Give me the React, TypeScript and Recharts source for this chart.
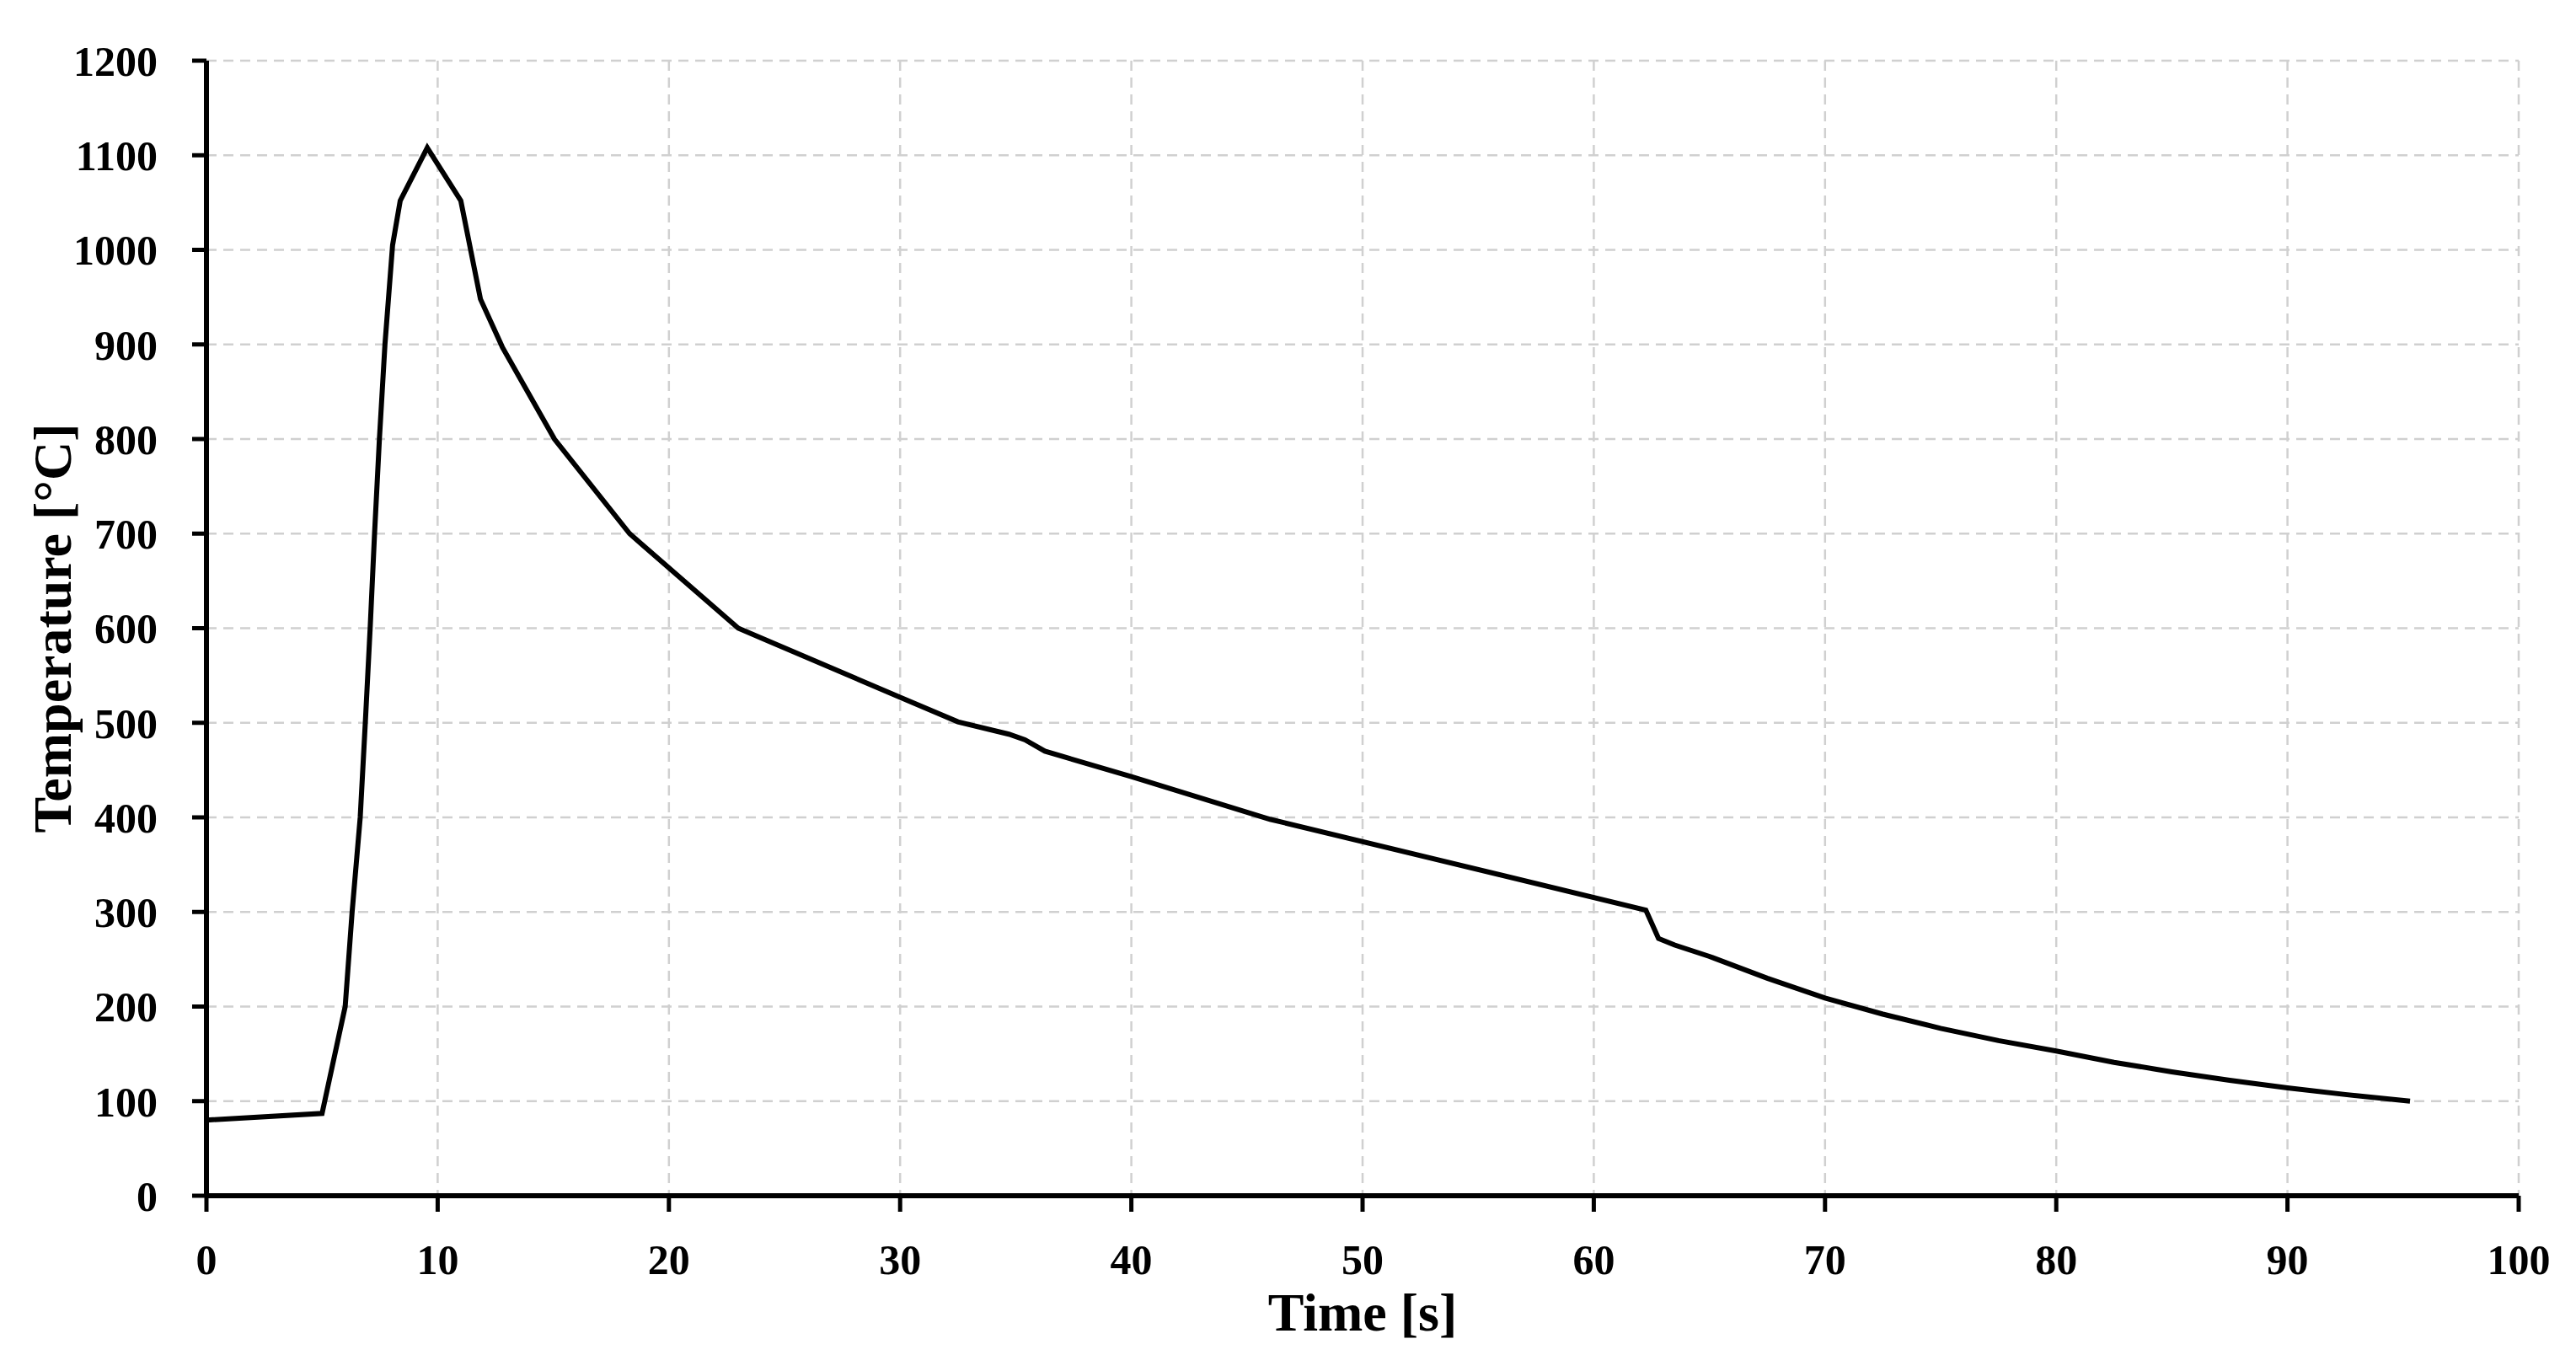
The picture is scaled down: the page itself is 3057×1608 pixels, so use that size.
import React from "react";
import { LineChart, Line, XAxis, YAxis, CartesianGrid } from "recharts";

// Time [s]
const times = [
  0, 5.0, 6.0, 6.3, 6.65, 6.87, 7.08, 7.27, 7.48, 7.72, 8.05, 8.38, 9.55, 11.0,
  11.85, 12.8, 15.05, 18.3, 23.0, 30.0, 32.5, 34.7, 35.4, 36.26, 40, 46, 62.25,
  62.8, 63.5, 65, 67.5, 70, 72.5, 75, 77.5, 80, 82.5, 85, 87.5, 90, 92.5, 95.3,
];
// Temperature [°C]
const temps = [
  80, 87, 200, 300, 400, 500, 600, 700, 800, 900, 1005, 1052, 1108, 1052, 948,
  897, 800, 700, 600, 527, 501, 488, 482, 470, 443, 398, 302, 272, 265, 253,
  230, 209, 192, 177, 164, 153, 141, 131, 122, 114, 107, 100,
];
const xTicks = [0, 10, 20, 30, 40, 50, 60, 70, 80, 90, 100];
const yTicks = [0, 100, 200, 300, 400, 500, 600, 700, 800, 900, 1000, 1100, 1200];
const xLabel = "Time [s]";
const yLabel = "Temperature [°C]";

const data = times.map((t, i) => ({ t, temp: temps[i] }));

const FONT = "'Liberation Serif', 'Times New Roman', serif";

const tickStyle = {
  fill: "#000",
  fontFamily: FONT,
  fontWeight: 700,
  fontSize: 50,
};

const YTitle = (props: any) => {
  const vb = props.viewBox || {};
  const cx = vb.x + 17;
  const cy = vb.y + vb.height / 2;
  return (
    <text
      x={cx}
      y={cy}
      transform={`rotate(-90, ${cx}, ${cy})`}
      textAnchor="middle"
      dominantBaseline="central"
      fontFamily={FONT}
      fontWeight={700}
      fontSize={64}
      fill="#000"
    >
      {yLabel}
    </text>
  );
};

const XTitle = (props: any) => {
  const vb = props.viewBox || {};
  const cx = vb.x + vb.width / 2;
  const cy = vb.y + 138;
  return (
    <text
      x={cx}
      y={cy}
      textAnchor="middle"
      dominantBaseline="central"
      fontFamily={FONT}
      fontWeight={700}
      fontSize={64}
      fill="#000"
    >
      {xLabel}
    </text>
  );
};

export default function App() {
  return (
    <div style={{ background: "#fff" }}>
      <LineChart
        width={3040}
        height={1592}
        data={data}
        margin={{ top: 64, right: 59, left: 37, bottom: 51 }}
      >
        <CartesianGrid
          stroke="#d0d0d0"
          strokeWidth={2.5}
          strokeDasharray="12 8"
        />
        <XAxis
          dataKey="t"
          type="number"
          domain={[0, 100]}
          ticks={xTicks}
          interval={0}
          height={130}
          axisLine={{ stroke: "#000", strokeWidth: 6 }}
          tickLine={{ stroke: "#000", strokeWidth: 5 }}
          tickSize={19}
          tickMargin={38}
          tick={tickStyle}
          label={<XTitle />}
        />
        <YAxis
          type="number"
          domain={[0, 1200]}
          ticks={yTicks}
          interval={0}
          width={200}
          axisLine={{ stroke: "#000", strokeWidth: 6 }}
          tickLine={{ stroke: "#000", strokeWidth: 5 }}
          tickSize={17}
          tickMargin={41}
          tick={tickStyle}
          label={<YTitle />}
        />
        <Line
          type="linear"
          dataKey="temp"
          stroke="#000"
          strokeWidth={6}
          dot={false}
          isAnimationActive={false}
        />
      </LineChart>
    </div>
  );
}
